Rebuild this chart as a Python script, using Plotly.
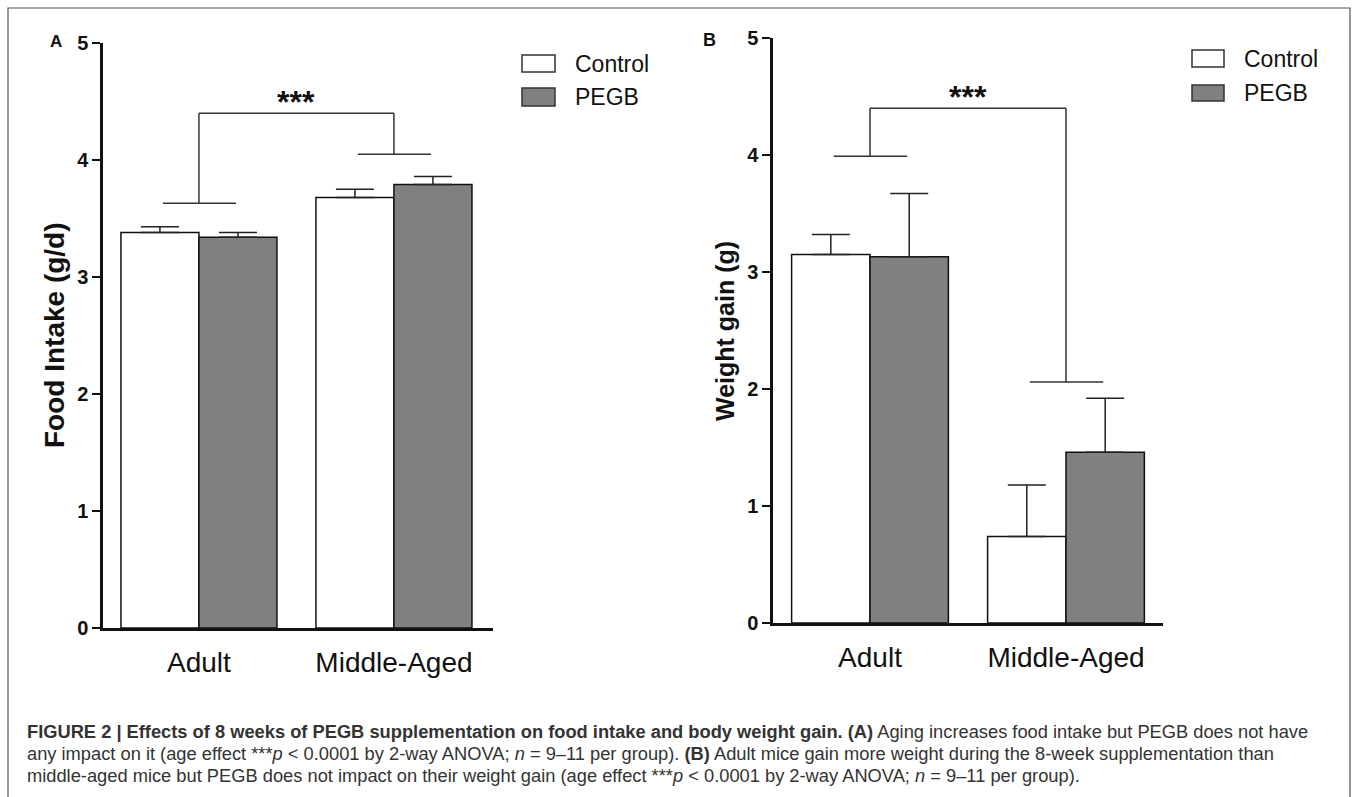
import plotly.graph_objects as go

# ---------------- data ----------------
categories = ["Adult", "Middle-Aged"]
series_names = ["Control", "PEGB"]

food_control = [3.38, 3.68]
food_control_err = [0.05, 0.07]
food_pegb = [3.34, 3.79]
food_pegb_err = [0.04, 0.07]

gain_control = [3.15, 0.74]
gain_control_err = [0.17, 0.44]
gain_pegb = [3.13, 1.46]
gain_pegb_err = [0.54, 0.46]

# significance brackets: [top, left-leg end, right-leg end]
food_bracket = [4.40, 3.63, 4.05]
gain_bracket = [4.40, 3.99, 2.06]
sig_label = "***"

y_ticks = [0, 1, 2, 3, 4, 5]

# ---------------- style ----------------
W, H = 1354, 797
FONT = "Liberation Sans, Arial, Helvetica, sans-serif"
fill_colors = ["#ffffff", "#808080"]
x_idx = list(range(len(categories)))


def px_x(p):
    return p / W


def px_y(p):
    return 1 - p / H


fig = go.Figure()

panels = [
    dict(xa="x", ya="y", ctrl=food_control, ctrl_e=food_control_err,
         peg=food_pegb, peg_e=food_pegb_err, br=food_bracket),
    dict(xa="x2", ya="y2", ctrl=gain_control, ctrl_e=gain_control_err,
         peg=gain_pegb, peg_e=gain_pegb_err, br=gain_bracket),
]

for p in panels:
    for name, vals, errs, col in [
        (series_names[0], p["ctrl"], p["ctrl_e"], fill_colors[0]),
        (series_names[1], p["peg"], p["peg_e"], fill_colors[1]),
    ]:
        fig.add_trace(go.Bar(
            x=x_idx, y=vals, name=name, xaxis=p["xa"], yaxis=p["ya"],
            marker=dict(color=col, line=dict(color="#111111", width=1.5)),
            error_y=dict(type="data", array=errs, arrayminus=[0] * len(errs),
                         symmetric=False, color="#222222", thickness=1.5, width=19),
            showlegend=False,
        ))
    # significance bracket
    top, ly, ry = p["br"]
    xr, yr = p["xa"], p["ya"]
    lc = dict(color="#333333", width=1.5)
    fig.add_shape(type="line", xref=xr, yref=yr, x0=x_idx[0], x1=x_idx[1], y0=top, y1=top, line=lc)
    fig.add_shape(type="line", xref=xr, yref=yr, x0=x_idx[0], x1=x_idx[0], y0=top, y1=ly, line=lc)
    fig.add_shape(type="line", xref=xr, yref=yr, x0=x_idx[1], x1=x_idx[1], y0=top, y1=ry, line=lc)
    fig.add_shape(type="line", xref=xr, yref=yr, x0=x_idx[0] - 0.185, x1=x_idx[0] + 0.19, y0=ly, y1=ly, line=lc)
    fig.add_shape(type="line", xref=xr, yref=yr, x0=x_idx[1] - 0.185, x1=x_idx[1] + 0.19, y0=ry, y1=ry, line=lc)
    fig.add_annotation(x=(x_idx[0] + x_idx[1]) / 2, y=top, xref=xr, yref=yr,
                       text=sig_label, showarrow=False, xanchor="center", yanchor="bottom", yshift=-9,
                       font=dict(family=FONT, size=32, color="#111111", weight="bold"))

axis_common = dict(showgrid=False, zeroline=False, showline=True,
                   linecolor="#111111", linewidth=2.5)

xtick_font = dict(family=FONT, size=28, color="#111111")
ytick_font = dict(family=FONT, size=20, color="#111111", weight="bold")

fig.update_layout(
    width=W, height=H,
    margin=dict(l=0, r=0, t=0, b=0, autoexpand=False),
    paper_bgcolor="white", plot_bgcolor="white",
    barmode="group", bargap=0.2, bargroupgap=0.0,
    xaxis=dict(domain=[px_x(103), px_x(493)], range=[-0.492, 1.508],
               tickvals=x_idx, ticktext=categories, ticks="", anchor="y",
               tickfont=xtick_font, ticklabelstandoff=8, **axis_common),
    yaxis=dict(domain=[px_y(628), px_y(43)], range=[0, 5], tickvals=y_ticks,
               ticks="outside", ticklen=8, tickwidth=2, tickcolor="#111111",
               anchor="x", tickfont=ytick_font, ticklabelstandoff=0, **axis_common),
    xaxis2=dict(domain=[px_x(773), px_x(1163)], range=[-0.495, 1.495],
                tickvals=x_idx, ticktext=categories, ticks="", anchor="y2",
                tickfont=xtick_font, ticklabelstandoff=8, **axis_common),
    yaxis2=dict(domain=[px_y(623), px_y(38)], range=[0, 5], tickvals=y_ticks,
                ticks="outside", ticklen=8, tickwidth=2, tickcolor="#111111",
                anchor="x2", tickfont=ytick_font, ticklabelstandoff=0, **axis_common),
)

# axis titles
fig.add_annotation(x=px_x(54), y=px_y(335), xref="paper", yref="paper", text="Food Intake (g/d)",
                   textangle=-90, showarrow=False, xanchor="center", yanchor="middle",
                   font=dict(family=FONT, size=28, color="#111111", weight="bold"))
fig.add_annotation(x=px_x(725), y=px_y(331), xref="paper", yref="paper", text="Weight gain (g)",
                   textangle=-90, showarrow=False, xanchor="center", yanchor="middle",
                   font=dict(family=FONT, size=25, color="#111111", weight="bold"))

# panel letters
fig.add_annotation(x=px_x(56), y=px_y(42), xref="paper", yref="paper", text="A", showarrow=False,
                   xanchor="center", yanchor="middle",
                   font=dict(family=FONT, size=17, color="#111111", weight="bold"))
fig.add_annotation(x=px_x(709), y=px_y(40), xref="paper", yref="paper", text="B", showarrow=False,
                   xanchor="center", yanchor="middle",
                   font=dict(family=FONT, size=18, color="#111111", weight="bold"))

# legends (drawn manually)
legend_specs = [
    (522, 555, [(55, 72), (88, 106)], 573),
    (1192, 1224, [(50, 67), (85, 101)], 1242),
]
for x0, x1, rows, tx in legend_specs:
    for (ya, yb), name, col in zip(rows, series_names, fill_colors):
        fig.add_shape(type="rect", xref="paper", yref="paper",
                      x0=px_x(x0), x1=px_x(x1), y0=px_y(yb), y1=px_y(ya),
                      fillcolor=col, line=dict(color="#333333", width=1.5))
        fig.add_annotation(x=px_x(tx), y=px_y((ya + yb) / 2), xref="paper", yref="paper",
                           text=name, showarrow=False, xanchor="left", yanchor="middle",
                           font=dict(family=FONT, size=23, color="#111111"))

# outer frame
fig.add_shape(type="rect", xref="paper", yref="paper", x0=px_x(8), x1=px_x(1350),
              y0=-0.05, y1=px_y(8), line=dict(color="#555555", width=1.2), layer="below")

# caption
caption_lines = [
    "<b>FIGURE 2 | Effects of 8 weeks of PEGB supplementation on food intake and body weight gain. (A)</b> "
    "Aging increases food intake but PEGB does not have",
    "any impact on it (age effect ***<i>p</i> &lt; 0.0001 by 2-way ANOVA; <i>n</i> = 9–11 per group). "
    "<b>(B)</b> Adult mice gain more weight during the 8-week supplementation than",
    "middle-aged mice but PEGB does not impact on their weight gain (age effect ***<i>p</i> &lt; 0.0001 "
    "by 2-way ANOVA; <i>n</i> = 9–11 per group).",
]
for i, line in enumerate(caption_lines):
    fig.add_annotation(x=px_x(25), y=px_y(731 + 22 * i), xref="paper", yref="paper",
                       text=line, showarrow=False, xanchor="left", yanchor="middle",
                       font=dict(family=FONT, size=18.3, color="#333333"))

fig.write_html("out.html", config={"displayModeBar": False},
               post_script="document.body.style.margin='0';document.body.style.overflow='hidden';")
